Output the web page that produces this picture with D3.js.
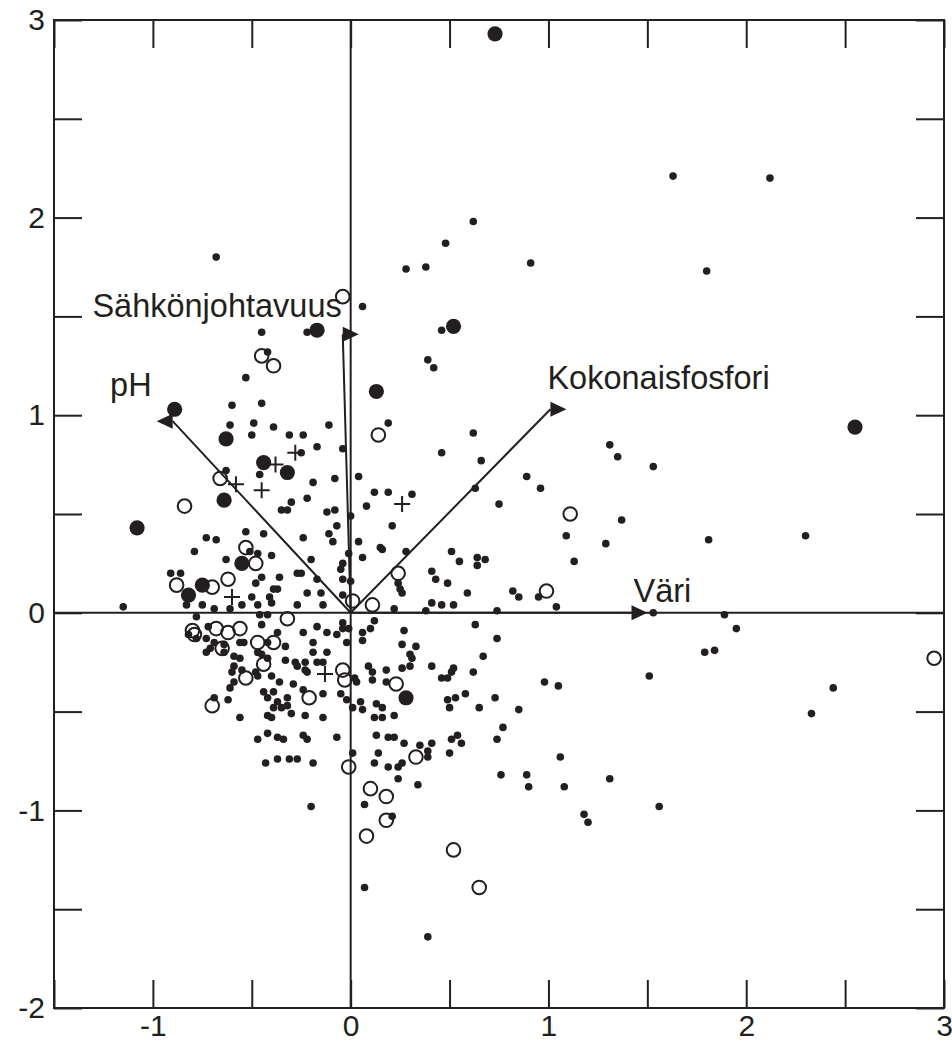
<!DOCTYPE html>
<html>
<head>
<meta charset="utf-8">
<script src="https://cdn.jsdelivr.net/npm/d3@7/dist/d3.min.js"></script>
<style>
  body { margin: 0; background: #fff; }
  text { font-family: "Liberation Sans", Arial, sans-serif; fill: #231f20; }
</style>
</head>
<body>
<div class="chart-container"></div>
<script>
// Small sites [x, y]
const dots = [
  [-0.68,1.80],[0.62,1.98],[0.48,1.87],[0.28,1.74],[0.38,1.75],[0.91,1.77],[1.63,2.21],[2.12,2.20],[1.80,1.73],
  [0.06,1.55],[-0.45,1.42],[-0.22,1.42],[0.46,1.43],[-0.42,1.32],[-0.53,1.19],[0.39,1.28],[0.42,1.24],
  [-0.60,1.05],[-0.45,1.06],[-0.61,0.95],[-0.49,0.96],[-0.39,0.94],[-0.11,0.95],[0.19,0.96],[-0.50,0.90],
  [-0.31,0.90],[-0.24,0.90],[-0.17,0.84],[-0.25,0.81],[-0.04,0.83],[0.62,0.91],[0.46,0.81],[0.66,0.77],
  [-0.63,0.72],[-0.46,0.70],[-0.19,0.66],[-0.08,0.68],[0.04,0.69],[0.12,0.61],[0.19,0.61],[0.31,0.60],
  [0.63,0.63],[0.75,0.55],[-0.30,0.56],[-0.22,0.58],[-0.35,0.52],[-0.32,0.52],[-0.12,0.51],[-0.08,0.52],
  [0.08,0.54],[0.00,0.49],[-0.07,0.44],[0.21,0.44],[-0.11,0.40],[-0.09,0.36],[-0.24,0.38],[0.04,0.36],
  [0.15,0.33],[0.16,0.32],[-0.01,0.30],[0.06,0.28],[0.28,0.31],[-0.20,0.27],[-0.04,0.25],[-0.05,0.22],
  [-0.25,0.20],[-0.17,0.17],[-0.04,0.17],[0.00,0.16],[0.51,0.31],[0.55,0.26],[0.64,0.28],[0.68,0.27],
  [0.64,0.24],[0.41,0.21],[0.43,0.17],[0.49,0.15],[0.24,0.15],[0.25,0.12],[0.26,0.10],[-0.22,0.10],
  [-0.15,0.10],[0.59,0.10],[-0.04,0.09],
  [-0.73,0.38],[-0.68,0.37],[-0.53,0.41],[-0.44,0.40],[-0.79,0.31],[-0.51,0.31],[-0.47,0.30],[-0.40,0.29],
  [-0.63,0.27],[-0.27,0.20],[-0.91,0.20],[-0.86,0.20],[-0.45,0.18],[-0.36,0.18],[-0.48,0.15],[-0.39,0.12],
  [-0.37,0.12],[-0.50,0.08],[-0.41,0.08],[-1.15,0.03],
  [-0.83,0.04],[-0.75,0.04],[-0.69,0.02],[-0.61,0.02],[-0.55,0.04],[-0.47,0.04],[-0.46,-0.01],[-0.42,-0.01],
  [-0.40,0.05],[-0.27,0.04],[-0.78,-0.02],[-0.14,0.04],[0.22,0.02],[0.38,0.01],[0.41,0.05],[0.46,0.04],
  [0.52,0.04],[0.74,0.01],
  [-0.45,-0.06],[-0.72,-0.07],[-0.82,-0.11],[-0.78,-0.13],[-0.73,-0.13],[-0.69,-0.15],[-0.71,-0.18],
  [-0.73,-0.20],[-0.64,-0.16],[-0.56,-0.15],[-0.54,-0.15],[-0.37,-0.10],[-0.33,-0.17],[-0.47,-0.20],
  [-0.45,-0.21],[-0.42,-0.15],[-0.64,-0.20],[-0.59,-0.22],[-0.56,-0.23],[-0.59,-0.27],[-0.55,-0.29],
  [-0.60,-0.30],[-0.48,-0.30],[-0.47,-0.32],[-0.42,-0.23],[-0.40,-0.32],[-0.33,-0.24],[-0.28,-0.25],
  [-0.27,-0.27],[-0.59,-0.35],[-0.61,-0.38],[-0.36,-0.35],[-0.29,-0.36],[-0.44,-0.40],[-0.39,-0.40],
  [-0.42,-0.43],[-0.37,-0.45],[-0.32,-0.43],[-0.62,-0.44],[-0.69,-0.43],[-0.39,-0.48],[-0.35,-0.48],
  [-0.32,-0.47],[-0.42,-0.52],[-0.40,-0.53],[-0.30,-0.51],[-0.56,-0.53],[-0.47,-0.64],[-0.42,-0.61],
  [-0.37,-0.63],[-0.34,-0.64],[-0.43,-0.76],[-0.37,-0.74],[-0.31,-0.74],[-0.27,-0.74],
  [0.12,-0.04],[-0.04,-0.05],[-0.04,-0.08],[-0.17,-0.07],[-0.12,-0.10],[-0.07,-0.11],[-0.01,-0.08],
  [0.06,-0.10],[0.10,-0.08],[0.06,-0.14],[0.27,-0.09],[0.63,-0.06],[0.74,-0.13],[-0.24,-0.10],
  [-0.19,-0.15],[-0.02,-0.15],[0.26,-0.16],[0.33,-0.17],[-0.19,-0.20],[-0.12,-0.20],[0.30,-0.21],
  [0.31,-0.23],[0.67,-0.22],[-0.23,-0.25],[-0.17,-0.25],[-0.14,-0.25],[0.41,-0.27],[0.30,-0.27],
  [0.26,-0.28],[0.18,-0.29],[0.09,-0.27],[0.11,-0.30],[0.02,-0.33],[0.03,-0.35],[0.11,-0.34],
  [0.18,-0.35],[0.52,-0.28],[0.51,-0.30],[0.62,-0.30],[0.46,-0.33],[0.49,-0.33],[-0.23,-0.29],
  [-0.22,-0.30],[-0.24,-0.39],[-0.14,-0.41],[-0.05,-0.41],[-0.02,-0.44],[0.05,-0.45],[0.01,-0.48],
  [0.06,-0.49],[0.13,-0.46],[0.16,-0.48],[0.22,-0.52],[0.12,-0.53],[0.16,-0.53],[-0.23,-0.52],
  [-0.14,-0.53],[0.49,-0.44],[0.53,-0.43],[0.50,-0.48],[0.58,-0.41],[0.65,-0.48],[0.73,-0.43],
  [-0.24,-0.62],[-0.22,-0.64],[-0.07,-0.63],[0.13,-0.62],[0.19,-0.63],[0.22,-0.63],[0.27,-0.66],
  [0.35,-0.67],[0.39,-0.70],[0.41,-0.66],[0.39,-0.73],[0.51,-0.64],[0.54,-0.62],[0.56,-0.66],
  [0.74,-0.64],[0.01,-0.71],[0.14,-0.71],[0.12,-0.76],[0.19,-0.78],[0.24,-0.78],[0.26,-0.76],
  [-0.19,-0.76],[0.50,-0.71],[0.24,-0.84],[0.34,-0.87],[-0.20,-0.98],[0.07,-0.97],[0.21,-1.03],
  [0.07,-1.39],[0.39,-1.64],
  [1.31,0.85],[1.35,0.79],[1.53,0.74],[0.89,0.69],[0.96,0.63],[1.37,0.47],[1.29,0.35],[1.09,0.39],
  [1.13,0.26],[1.81,0.37],[2.30,0.39],[0.82,0.11],[1.53,0.00],[1.89,-0.01],[1.95,-0.08],[1.84,-0.19],
  [1.79,-0.20],[1.51,-0.32],[2.44,-0.38],[2.33,-0.51],[0.98,-0.35],[1.05,-0.37],[0.77,-0.58],
  [0.85,-0.49],[0.76,-0.82],[0.89,-0.82],[0.90,-0.88],[1.06,-0.73],[1.08,-0.88],[1.18,-1.02],
  [1.20,-1.06],[1.31,-0.84],[1.56,-0.98],[0.85,0.08],[0.95,0.08],[1.04,0.03]
];
// Large filled sites
const bigDots = [
  [0.73,2.93],[-0.17,1.43],[0.52,1.45],[0.13,1.12],[-0.89,1.03],[2.55,0.94],[-0.63,0.88],[-0.44,0.76],
  [-0.32,0.71],[-0.64,0.57],[-1.08,0.43],[-0.55,0.25],[-0.75,0.14],[-0.82,0.09],[0.28,-0.43]
];
// Open circle sites
const openCircles = [
  [-0.04,1.60],[-0.45,1.30],[-0.39,1.25],[0.14,0.90],[-0.66,0.68],[-0.84,0.54],[1.11,0.50],[-0.53,0.33],
  [-0.48,0.25],[0.24,0.20],[0.99,0.11],[-0.88,0.14],[-0.70,0.13],[-0.62,0.17],[0.01,0.06],[0.11,0.04],
  [-0.32,-0.03],[-0.80,-0.09],[-0.79,-0.11],[-0.68,-0.08],[-0.62,-0.10],[-0.56,-0.08],[-0.65,-0.18],
  [-0.47,-0.15],[-0.39,-0.15],[-0.44,-0.26],[-0.53,-0.33],[-0.70,-0.47],[-0.21,-0.43],[-0.04,-0.29],
  [-0.03,-0.34],[0.23,-0.36],[-0.01,-0.78],[0.33,-0.73],[0.10,-0.89],[0.18,-0.93],[0.18,-1.05],
  [0.08,-1.13],[0.52,-1.20],[0.65,-1.39],[2.95,-0.23]
];
// Cross sites
const crosses = [
  [-0.28,0.81],[-0.38,0.75],[-0.58,0.65],[-0.45,0.62],[0.26,0.55],[-0.60,0.08],[-0.13,-0.31]
];
// Environmental vectors
const vectorNames = ["pH", "Sähkönjohtavuus", "Kokonaisfosfori", "Väri"];
const vectorX = [-0.90, -0.04, 1.01, 1.42];
const vectorY = [0.97, 1.41, 1.03, 0.00];
// Axis ticks
const xTickValues = [-1.5, -1, -0.5, 0, 0.5, 1, 1.5, 2, 2.5, 3];
const yTickValues = [-2, -1.5, -1, -0.5, 0, 0.5, 1, 1.5, 2, 2.5, 3];

const width = 952, height = 1043;
const margin = { top: 20, right: 8, bottom: 35, left: 54 };
const ink = "#231f20";

const svg = d3.select(".chart-container").append("svg")
  .attr("width", width).attr("height", height);

const x = d3.scaleLinear().domain([-1.5, 3]).range([margin.left, width - margin.right]);
const y = d3.scaleLinear().domain([-2, 3]).range([height - margin.bottom, margin.top]);

const fmt = d => Number.isInteger(d) ? String(d) : "";
const tickLen = 28;

// Axes (ticks point inward)
function styleAxis(g) {
  g.select(".domain").remove();
  g.selectAll(".tick line").attr("stroke", ink).attr("stroke-width", 2);
  g.selectAll(".tick text").style("font-size", "30px").attr("fill", ink);
}
svg.append("g").attr("transform", `translate(0,${y(-2)})`)
  .call(d3.axisBottom(x).tickValues(xTickValues).tickFormat(d => d === -1.5 ? "" : fmt(d)).tickSize(-tickLen).tickPadding(7))
  .call(styleAxis);
svg.append("g").attr("transform", `translate(0,${y(3)})`)
  .call(d3.axisTop(x).tickValues(xTickValues).tickFormat("").tickSize(-tickLen))
  .call(styleAxis);
svg.append("g").attr("transform", `translate(${x(-1.5)},0)`)
  .call(d3.axisLeft(y).tickValues(yTickValues).tickFormat(fmt).tickSize(-tickLen).tickPadding(9))
  .call(styleAxis);
svg.append("g").attr("transform", `translate(${x(3)},0)`)
  .call(d3.axisRight(y).tickValues(yTickValues).tickFormat("").tickSize(-tickLen))
  .call(styleAxis);

// Frame
svg.append("rect")
  .attr("x", x(-1.5)).attr("y", y(3))
  .attr("width", x(3) - x(-1.5)).attr("height", y(-2) - y(3))
  .attr("fill", "none").attr("stroke", ink).attr("stroke-width", 2);

// Zero lines
svg.append("line").attr("x1", x(-1.5)).attr("x2", x(3)).attr("y1", y(0)).attr("y2", y(0))
  .attr("stroke", ink).attr("stroke-width", 2);
svg.append("line").attr("x1", x(0)).attr("x2", x(0)).attr("y1", y(3)).attr("y2", y(-2))
  .attr("stroke", ink).attr("stroke-width", 2);

// Sites
svg.append("g").selectAll("circle").data(dots).enter().append("circle")
  .attr("cx", d => x(d[0])).attr("cy", d => y(d[1])).attr("r", 3.8).attr("fill", ink);
svg.append("g").selectAll("circle").data(bigDots).enter().append("circle")
  .attr("cx", d => x(d[0])).attr("cy", d => y(d[1])).attr("r", 7.6).attr("fill", ink);
svg.append("g").selectAll("circle").data(openCircles).enter().append("circle")
  .attr("cx", d => x(d[0])).attr("cy", d => y(d[1])).attr("r", 6.8)
  .attr("fill", "none").attr("stroke", ink).attr("stroke-width", 2);
svg.append("g").selectAll("path").data(crosses).enter().append("path")
  .attr("d", d => `M${x(d[0]) - 8},${y(d[1])}h16M${x(d[0])},${y(d[1]) - 8}v16`)
  .attr("stroke", ink).attr("stroke-width", 2).attr("fill", "none");

// Vectors
const vectors = vectorNames.map((name, i) => ({ name, vx: vectorX[i], vy: vectorY[i] }));
const vg = svg.append("g");
vg.selectAll("line").data(vectors).enter().append("line")
  .attr("x1", x(0)).attr("y1", y(0))
  .attr("x2", d => x(d.vx)).attr("y2", d => y(d.vy))
  .attr("stroke", ink).attr("stroke-width", 2);
// arrowheads: flat triangles, only the strongly negative vector points left
vg.selectAll("path").data(vectors).enter().append("path")
  .attr("d", d => {
    const px = x(d.vx), py = y(d.vy), s = d.vx < -0.5 ? -1 : 1;
    return `M${px},${py - 7.5}L${px + s * 16},${py}L${px},${py + 7.5}Z`;
  })
  .attr("fill", ink);
const labelShift = {
  "pH": [-21, -25, "end"],
  "Sähkönjohtavuus": [-1, -17, "end"],
  "Kokonaisfosfori": [-3, -20, "start"],
  "Väri": [2, -11, "start"]
};
vg.selectAll("text").data(vectors).enter().append("text")
  .attr("x", d => x(d.vx) + labelShift[d.name][0])
  .attr("y", d => y(d.vy) + labelShift[d.name][1])
  .attr("text-anchor", d => labelShift[d.name][2])
  .style("font-size", "32.5px")
  .text(d => d.name);
</script>
</body>
</html>
